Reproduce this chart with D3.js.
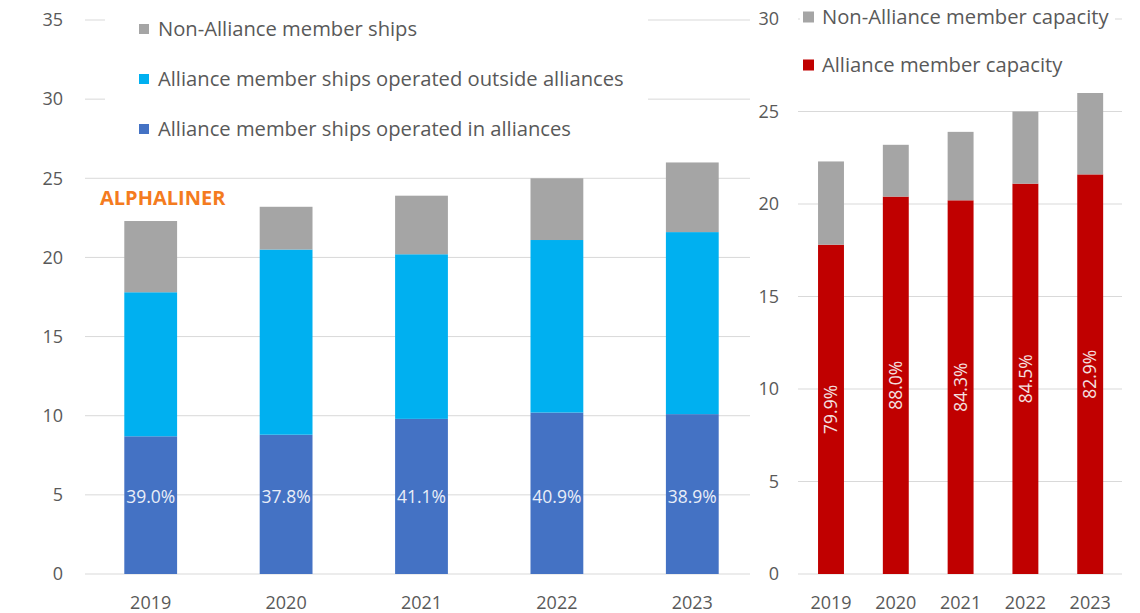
<!DOCTYPE html>
<html lang="en">
<head>
<meta charset="utf-8">
<title>Alliance member ships and capacity</title>
<script src="https://d3js.org/d3.v7.min.js"></script>
<style>
    body { margin: 0; background: #fff; }
    svg { display: block; font-family: "Open Sans", sans-serif; }
    .tick-label { fill: #595959; font-size: 18px; }
    .legend-text { fill: #595959; font-size: 20.2px; }
    .grid { stroke: #d9d9d9; stroke-width: 1; }
</style>
</head>
<body>
<svg id="chart" width="1140" height="613"></svg>
<script>
    // données (millions TEU)
    const years = ["2019", "2020", "2021", "2022", "2023"];

    // graphique de gauche : navires
    const inAlliance = [8.7, 8.8, 9.8, 10.2, 10.1];
    const outsideAlliance = [9.1, 11.7, 10.4, 10.9, 11.5];
    const nonAllianceShips = [4.5, 2.7, 3.7, 3.9, 4.4];
    const inAlliancePct = ["39.0%", "37.8%", "41.1%", "40.9%", "38.9%"];
    const leftTicks = [0, 5, 10, 15, 20, 25, 30, 35];

    // graphique de droite : capacité
    const allianceCapacity = [17.8, 20.4, 20.2, 21.1, 21.6];
    const nonAllianceCapacity = [4.5, 2.8, 3.7, 3.9, 4.4];
    const allianceCapacityPct = ["79.9%", "88.0%", "84.3%", "84.5%", "82.9%"];
    const rightTicks = [0, 5, 10, 15, 20, 25, 30];

    const leftSeries = [
        {name: "Alliance member ships operated in alliances", values: inAlliance, color: "#4472c4"},
        {name: "Alliance member ships operated outside alliances", values: outsideAlliance, color: "#00b0f0"},
        {name: "Non-Alliance member ships", values: nonAllianceShips, color: "#a5a5a5"}
    ];
    const rightSeries = [
        {name: "Alliance member capacity", values: allianceCapacity, color: "#c00000"},
        {name: "Non-Alliance member capacity", values: nonAllianceCapacity, color: "#a5a5a5"}
    ];

    const svg = d3.select("#chart");

    function stackRows(series) {
        const rows = years.map((y, i) => {
            const r = {year: y};
            series.forEach(s => r[s.name] = s.values[i]);
            return r;
        });
        return d3.stack().keys(series.map(s => s.name))(rows);
    }

    // ---------- gauche ----------
    const xL = d3.scaleBand().domain(years).range([83, 760]).paddingInner(0.61).paddingOuter(0.305);
    const yL = d3.scaleLinear().domain([0, 35]).range([574, 20]);

    const gL = svg.append("g");
    gL.selectAll("line.grid").data(leftTicks).enter().append("line")
        .attr("class", "grid")
        .attr("x1", 85).attr("x2", 750)
        .attr("y1", d => yL(d)).attr("y2", d => yL(d));

    gL.selectAll("text.ytick").data(leftTicks).enter().append("text")
        .attr("class", "tick-label")
        .attr("x", 63).attr("y", d => yL(d))
        .attr("dy", "0.35em")
        .attr("text-anchor", "end")
        .text(d => d);

    const stackedL = stackRows(leftSeries);
    gL.selectAll("g.layer").data(stackedL).enter().append("g")
        .attr("fill", (d, i) => leftSeries[i].color)
        .selectAll("rect").data(d => d).enter().append("rect")
        .attr("x", d => xL(d.data.year))
        .attr("width", xL.bandwidth())
        .attr("y", d => yL(d[1]))
        .attr("height", d => yL(d[0]) - yL(d[1]));

    gL.selectAll("text.pct").data(years).enter().append("text")
        .attr("x", d => xL(d) + xL.bandwidth() / 2)
        .attr("y", yL(4.85))
        .attr("dy", "0.35em")
        .attr("text-anchor", "middle")
        .attr("fill", "#e9eef8")
        .style("font-size", "17.5px")
        .text((d, i) => inAlliancePct[i]);

    gL.selectAll("text.xtick").data(years).enter().append("text")
        .attr("class", "tick-label")
        .attr("x", d => xL(d) + xL.bandwidth() / 2)
        .attr("y", 603)
        .attr("dy", "0.35em")
        .attr("text-anchor", "middle")
        .text(d => d);

    // légende gauche (fond blanc par-dessus la grille)
    gL.append("rect").attr("x", 105).attr("y", 4).attr("width", 543).attr("height", 150).attr("fill", "#fff");
    const legL = gL.selectAll("g.leg").data(leftSeries.slice().reverse()).enter().append("g")
        .attr("transform", (d, i) => `translate(139,${29 + i * 50})`);
    legL.append("rect").attr("x", 0).attr("y", -5).attr("width", 10).attr("height", 10).attr("fill", d => d.color);
    legL.append("text").attr("class", "legend-text").attr("x", 19).attr("dy", "0.35em").text(d => d.name);

    gL.append("text")
        .attr("x", 100).attr("y", 198)
        .attr("dy", "0.35em")
        .attr("fill", "#f47b20")
        .style("font-size", "20px")
        .style("font-weight", "bold")
        .text("ALPHALINER");

    // ---------- droite ----------
    const xR = d3.scaleBand().domain(years).range([798.6, 1122.6]).paddingInner(0.6).paddingOuter(0.3);
    const yR = d3.scaleLinear().domain([0, 30]).range([574, 19]);

    const gR = svg.append("g");
    gR.selectAll("line.grid").data(rightTicks).enter().append("line")
        .attr("class", "grid")
        .attr("x1", 798).attr("x2", 1122)
        .attr("y1", d => yR(d)).attr("y2", d => yR(d));

    gR.selectAll("text.ytick").data(rightTicks).enter().append("text")
        .attr("class", "tick-label")
        .attr("x", 779).attr("y", d => yR(d))
        .attr("dy", "0.35em")
        .attr("text-anchor", "end")
        .text(d => d);

    const stackedR = stackRows(rightSeries);
    gR.selectAll("g.layer").data(stackedR).enter().append("g")
        .attr("fill", (d, i) => rightSeries[i].color)
        .selectAll("rect").data(d => d).enter().append("rect")
        .attr("x", d => xR(d.data.year))
        .attr("width", xR.bandwidth())
        .attr("y", d => yR(d[1]))
        .attr("height", d => yR(d[0]) - yR(d[1]));

    gR.selectAll("text.pct").data(years).enter().append("text")
        .attr("transform", (d, i) => `translate(${xR(d) + xR.bandwidth() / 2},${yR(allianceCapacity[i] / 2)}) rotate(-90)`)
        .attr("dy", "0.35em")
        .attr("text-anchor", "middle")
        .attr("fill", "#f4e0e0")
        .style("font-size", "17.5px")
        .text((d, i) => allianceCapacityPct[i]);

    gR.selectAll("text.xtick").data(years).enter().append("text")
        .attr("class", "tick-label")
        .attr("x", d => xR(d) + xR.bandwidth() / 2)
        .attr("y", 603)
        .attr("dy", "0.35em")
        .attr("text-anchor", "middle")
        .text(d => d);

    gR.append("rect").attr("x", 800).attr("y", 0).attr("width", 315).attr("height", 88).attr("fill", "#fff");
    const legR = gR.selectAll("g.leg").data(rightSeries.slice().reverse()).enter().append("g")
        .attr("transform", (d, i) => `translate(803,${17 + i * 48})`);
    legR.append("rect").attr("x", 0).attr("y", -5.5).attr("width", 11).attr("height", 11).attr("fill", d => d.color);
    legR.append("text").attr("class", "legend-text").attr("x", 19).attr("dy", "0.35em").text(d => d.name);
</script>
</body>
</html>
